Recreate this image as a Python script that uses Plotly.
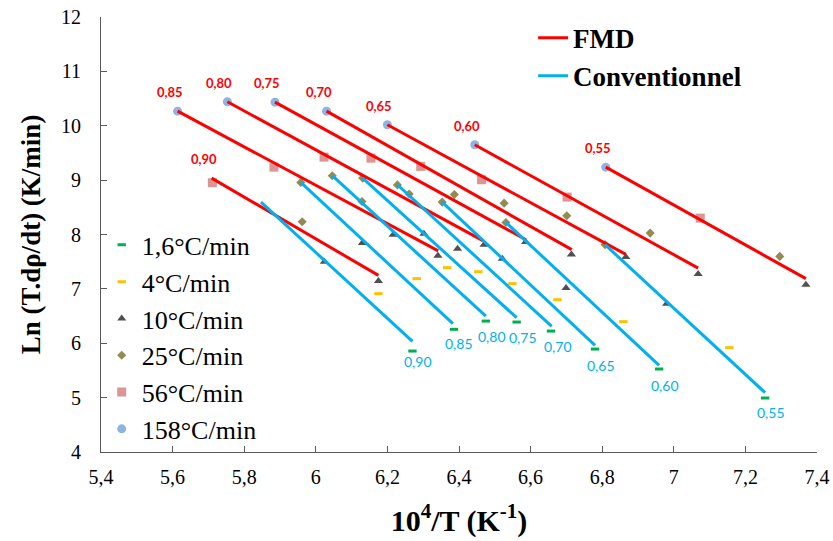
import plotly.graph_objects as go

# ---------------- data ----------------
alpha_labels = ["0,90", "0,85", "0,80", "0,75", "0,70", "0,65", "0,60", "0,55"]

# 1,6 °C/min (conventional)
x_1p6 = [6.270, 6.386, 6.475, 6.561, 6.657, 6.780, 6.959, 7.255]
y_1p6 = [5.857, 6.256, 6.408, 6.390, 6.224, 5.893, 5.526, 4.993]
# 4 °C/min (conventional)
x_4 = [6.175, 6.282, 6.367, 6.454, 6.549, 6.675, 6.859, 7.155]
y_4 = [6.912, 7.188, 7.390, 7.316, 7.096, 6.801, 6.397, 5.919]
# 10 °C/min (conventional set, then FMD set)
x_10 = [6.024, 6.130, 6.216, 6.302, 6.396, 6.521, 6.699, 6.980,
        6.175, 6.341, 6.470, 6.586, 6.714, 6.866, 7.068, 7.369]
y_10 = [7.500, 7.842, 7.996, 8.015, 7.739, 7.555, 7.015, 6.728,
        7.143, 7.610, 7.813, 7.860, 7.634, 7.585, 7.272, 7.077]
# 25 °C/min (conventional set, then FMD set)
x_25 = [5.958, 6.046, 6.131, 6.228, 6.353, 6.531, 6.808,
        5.962, 6.129, 6.261, 6.387, 6.526, 6.701, 6.934, 7.296]
y_25 = [8.958, 9.081, 9.037, 8.912, 8.596, 8.222, 7.813,
        8.235, 8.608, 8.746, 8.737, 8.577, 8.346, 8.026, 7.597]
# 56 °C/min
x_56 = [5.711, 5.883, 6.023, 6.154, 6.293, 6.463, 6.702, 7.074]
y_56 = [8.952, 9.239, 9.423, 9.404, 9.252, 9.007, 8.688, 8.301]
# 158 °C/min
x_158 = [5.614, 5.753, 5.886, 6.030, 6.200, 6.444, 6.810]
y_158 = [10.268, 10.441, 10.434, 10.268, 10.018, 9.651, 9.239]

# fitted lines (start / end) for each conversion, same order as alpha_labels
fmd_x_start = [5.709, 5.614, 5.753, 5.886, 6.030, 6.200, 6.444, 6.810]
fmd_y_start = [9.037, 10.268, 10.441, 10.434, 10.268, 10.018, 9.651, 9.239]
fmd_x_end = [6.175, 6.342, 6.468, 6.587, 6.715, 6.866, 7.068, 7.369]
fmd_y_end = [7.248, 7.699, 7.882, 7.904, 7.721, 7.634, 7.382, 7.188]

conv_x_start = [5.847, 5.958, 6.046, 6.131, 6.228, 6.353, 6.531, 6.808]
conv_y_start = [8.596, 8.958, 9.081, 9.037, 8.915, 8.596, 8.222, 7.813]
conv_x_end = [6.270, 6.383, 6.475, 6.561, 6.659, 6.780, 6.959, 7.255]
conv_y_end = [6.035, 6.360, 6.500, 6.471, 6.311, 5.961, 5.594, 5.092]

x_tick_vals = [5.4, 5.6, 5.8, 6.0, 6.2, 6.4, 6.6, 6.8, 7.0, 7.2, 7.4]
x_tick_text = ["5,4", "5,6", "5,8", "6", "6,2", "6,4", "6,6", "6,8", "7", "7,2", "7,4"]
y_tick_vals = [4, 5, 6, 7, 8, 9, 10, 11, 12]

# ---------------- figure ----------------
SERIF = "Liberation Serif, Times New Roman, serif"
RED = "#FF0000"
BLUE = "#00B0F0"

fig = go.Figure()

marker_series = [
    ("1,6°C/min", x_1p6, y_1p6, dict(symbol="line-ew", size=6, color="#00B050",
                                     line=dict(color="#00B050", width=3))),
    ("4°C/min", x_4, y_4, dict(symbol="line-ew", size=6, color="#FFC000",
                               line=dict(color="#FFC000", width=3))),
    ("10°C/min", x_10, y_10, dict(symbol="triangle-up", size=8, color="#505050")),
    ("25°C/min", x_25, y_25, dict(symbol="diamond", size=7, color="#948A54")),
    ("56°C/min", x_56, y_56, dict(symbol="square", size=9, color="#D99694")),
    ("158°C/min", x_158, y_158, dict(symbol="circle", size=9, color="#8EB4E3")),
]
for name, xs, ys, mk in marker_series:
    fig.add_trace(go.Scatter(x=xs, y=ys, mode="markers", name=name, marker=mk,
                             legend="legend"))


def segments(x0, y0, x1, y1):
    xs, ys = [], []
    for a, b, c, d in zip(x0, y0, x1, y1):
        xs += [a, c, None]
        ys += [b, d, None]
    return xs, ys


fx, fy = segments(fmd_x_start, fmd_y_start, fmd_x_end, fmd_y_end)
cx, cy = segments(conv_x_start, conv_y_start, conv_x_end, conv_y_end)
fig.add_trace(go.Scatter(x=fx, y=fy, mode="lines", name="<b>FMD</b>",
                         line=dict(color=RED, width=3), legend="legend2"))
fig.add_trace(go.Scatter(x=cx, y=cy, mode="lines", name="<b>Conventionnel</b>",
                         line=dict(color=BLUE, width=3), legend="legend2"))

annotations = []
for lab, xa, ya in zip(alpha_labels, fmd_x_start, fmd_y_start):
    annotations.append(dict(x=xa, y=ya, text="<b>" + lab + "</b>", showarrow=False,
                            xshift=-8, yshift=19,
                            font=dict(family="Lato, sans-serif", size=13, color=RED)))
for lab, xa, ya in zip(alpha_labels, conv_x_end, conv_y_end):
    annotations.append(dict(x=xa, y=ya, text=lab, showarrow=False,
                            xshift=6, yshift=-20,
                            font=dict(family="Lato, sans-serif", size=14, color=BLUE)))

AXCOL = "#595959"
fig.update_layout(
    width=833, height=541,
    margin=dict(l=101, r=16, t=17, b=89),
    paper_bgcolor="white", plot_bgcolor="white",
    font=dict(family=SERIF, color="black"),
    annotations=annotations,
    xaxis=dict(range=[5.4, 7.4], tickvals=x_tick_vals, ticktext=x_tick_text,
               automargin=False,
               showgrid=False, zeroline=False, showline=True, linecolor=AXCOL,
               linewidth=1, ticks="inside", ticklen=6, tickcolor=AXCOL,
               ticklabelstandoff=7,
               tickfont=dict(family=SERIF, size=20, color="black"),
               title=dict(text="<b>10<sup>4</sup>/T (K<sup>-1</sup>)</b>",
                          font=dict(family=SERIF, size=30, color="black"),
                          standoff=22)),
    yaxis=dict(range=[4, 12], tickvals=y_tick_vals,
               automargin=False,
               showgrid=False, zeroline=False, showline=True, linecolor=AXCOL,
               linewidth=1, ticks="inside", ticklen=6, tickcolor=AXCOL,
               ticklabelstandoff=15,
               tickfont=dict(family=SERIF, size=20, color="black"),
               title=dict(text="<b>Ln (T.dρ/dt) (K/min)</b>",
                          font=dict(family=SERIF, size=27, color="black"),
                          standoff=12)),
    legend=dict(x=0.001, y=0.530, xanchor="left", yanchor="top",
                bgcolor="rgba(0,0,0,0)", tracegroupgap=0,
                font=dict(family=SERIF, size=26, color="black"),
                itemwidth=30),
    legend2=dict(x=0.6035, y=1.0076, xanchor="left", yanchor="top",
                 bgcolor="rgba(0,0,0,0)",
                 font=dict(family=SERIF, size=27, color="black"),
                 itemwidth=30),
    showlegend=True,
)

# remove the default page margin so the 833x541 figure fills the window exactly
fig.write_html("out.html",
               config={"displayModeBar": False},
               post_script="document.body.style.margin='0';"
                           "document.body.style.overflow='hidden';")
